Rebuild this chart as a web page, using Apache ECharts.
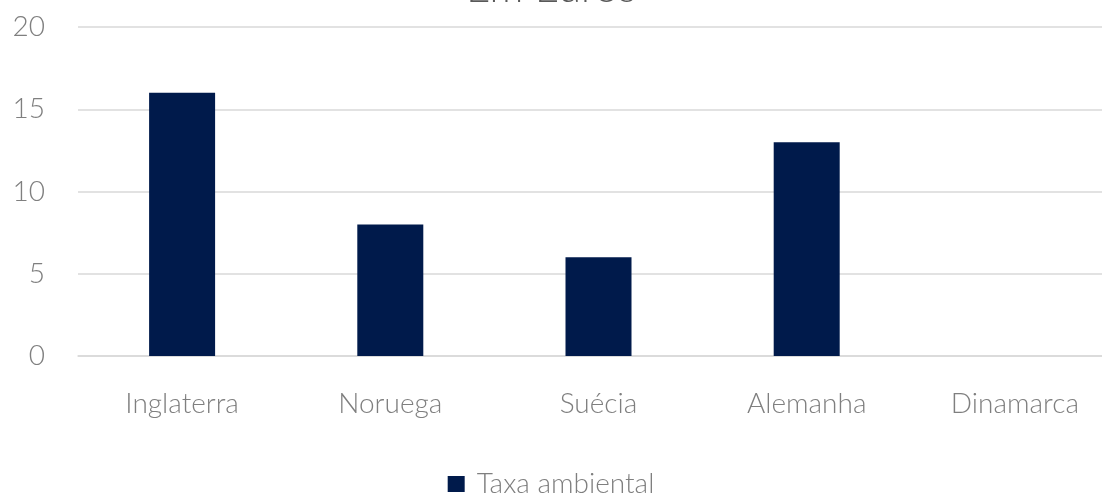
<!DOCTYPE html>
<html><head><meta charset="utf-8">
<script src="https://cdn.jsdelivr.net/npm/echarts@6/dist/echarts.min.js"></script>
<style>html,body{margin:0;padding:0;background:#fff}#c{width:1102px;height:503px}</style>
</head><body><div id="c"></div>
<script>
const titleText = "Em Euros";
const seriesName = "Taxa ambiental";
const categories = ["Inglaterra", "Noruega", "Suécia", "Alemanha", "Dinamarca"];
const values = [16, 8, 6, 13, 0];
const yTicks = [0, 5, 10, 15, 20];

const chart = echarts.init(document.getElementById('c'));
const font = 'Lato';
chart.setOption({
  animation: false,
  title: {
    text: titleText, left: 'center', top: -38,
    textStyle: {fontFamily: font, fontWeight: 300, fontSize: 42, color: '#595959'}
  },
  legend: {
    bottom: 0, left: 'center', itemWidth: 17, itemHeight: 16, icon: 'rect',
    textStyle: {fontFamily: font, fontWeight: 300, fontSize: 28, color: '#7f7f7f', padding: [0, 0, 0, 7]},
    data: [seriesName]
  },
  grid: {left: 78, right: -17, top: 27, bottom: 147, outerBoundsMode: 'none'},
  xAxis: {
    type: 'category', data: categories,
    axisLine: {show: true, lineStyle: {color: '#d9d9d9', width: 1.5}},
    axisTick: {show: false},
    axisLabel: {fontFamily: font, fontWeight: 300, fontSize: 28, color: '#7f7f7f', margin: 34}
  },
  yAxis: {
    type: 'value', min: yTicks[0], max: yTicks[yTicks.length-1], interval: 5,
    axisLine: {show: false}, axisTick: {show: false},
    splitLine: {lineStyle: {color: '#d9d9d9', width: 1.5}},
    axisLabel: {fontFamily: font, fontWeight: 300, fontSize: 28, color: '#7f7f7f', margin: 33}
  },
  series: [{
    name: seriesName, type: 'bar', data: values, barWidth: 66,
    itemStyle: {color: '#001a4b'}
  }]
});
</script></body></html>
